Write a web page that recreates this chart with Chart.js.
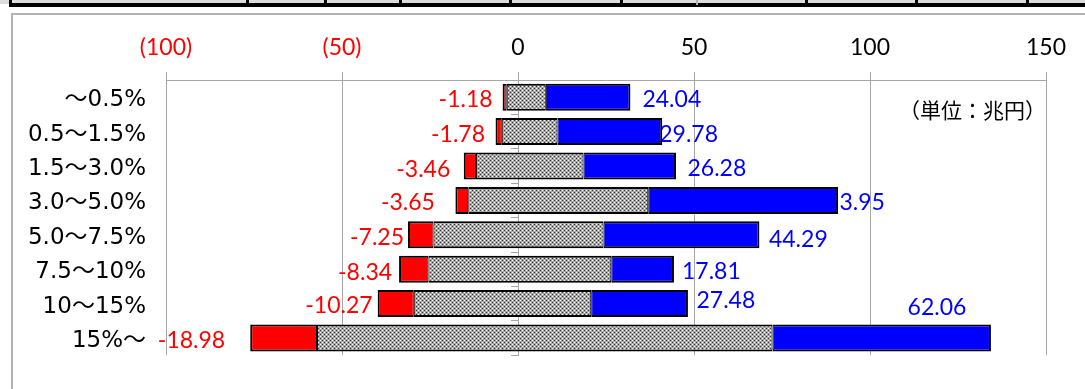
<!DOCTYPE html>
<html>
<head>
<meta charset="utf-8">
<script src="https://cdn.jsdelivr.net/npm/chart.js@4/dist/chart.umd.min.js"></script>
<style>
  html, body { margin: 0; padding: 0; background: #fff; }
  #wrap { position: relative; width: 1085px; height: 389px; overflow: hidden; background: #fff; }
  .cells { position: absolute; left: 0; top: 0; width: 1085px; height: 4px; background: #dcdcdc; }
  .rule { position: absolute; left: 9px; top: 3px; width: 1076px; height: 4px; background: #000; }
  .sep { position: absolute; top: 0; width: 3px; height: 5px; background: #000; }
  .sep.light { background: #b0b0b0; width: 2px; }
  #frame { position: absolute; left: 11px; top: 13px; width: 1100px; height: 420px;
           border: 2px solid #b4b4b4; box-sizing: border-box; }
  #chart { position: absolute; left: 0; top: 0; }
</style>
</head>
<body>
<div id="wrap">
  <div class="cells"></div>
  <div class="rule"></div>
  <div class="sep" style="left:9px"></div>
  <div class="sep" style="left:246px"></div>
  <div class="sep" style="left:324px"></div>
  <div class="sep" style="left:399px"></div>
  <div class="sep" style="left:509px"></div>
  <div class="sep" style="left:620px"></div>
  <div class="sep light" style="left:696px"></div>
  <div class="sep" style="left:805px"></div>
  <div class="sep" style="left:915px"></div>
  <div class="sep" style="left:1026px"></div>
  <div id="frame"></div>
  <canvas id="chart" width="1085" height="389"></canvas>
</div>
<script>
// Income brackets (rows, top to bottom)
const categories = ['～0.5%', '0.5～1.5%', '1.5～3.0%', '3.0～5.0%', '5.0～7.5%', '7.5～10%', '10～15%', '15%～'];
// Red segment: decrease (兆円)
const decrease = [-1.18, -1.78, -3.46, -3.65, -7.25, -8.34, -10.27, -18.98];
// Hatched segment: lower and upper ends
const neutralLow = [-3.2, -4.6, -11.95, -14.13, -24.0, -25.45, -29.6, -57.1];
const neutralHigh = [7.9, 11.2, 18.6, 37.0, 24.3, 26.5, 20.8, 72.3];
// Blue segment: increase (兆円)
const increase = [24.04, 29.78, 26.28, 53.95, 44.29, 17.81, 27.48, 62.06];
// Value axis ticks
const xTickValues = [-100, -50, 0, 50, 100, 150];
const unitLabel = '（単位：兆円）';

// Label placement relative to the bar end: [dx, dy, align]
const decreaseLabelNudge = [[-10, 2.5], [-10.5, 3], [-13.5, 3.5], [-20.5, 2.5], [-4, 3], [-7, 3], [-5, 2], [-25, 2.3]];
const increaseLabelNudge = [[12, 2.5], [-3, 3], [11.5, 3], [-12, 2.5], [9.5, 4.8], [8, 2.8], [8.5, -3], [-54, -30.5, 'center']];

const RED = '#ff0000', BLUE = '#0000ff', GRID = '#a6a6a6';
const numFont = 'Lato, "Noto Sans", sans-serif';
const catFont = '"DejaVu Sans", "Noto Sans CJK JP", sans-serif';
const jpFont = '"Noto Sans CJK JP", "Noto Sans", sans-serif';

function hatchPattern() {
  const t = document.createElement('canvas');
  t.width = 4; t.height = 4;
  const g = t.getContext('2d');
  g.fillStyle = '#a8a8a8'; g.fillRect(0, 0, 4, 4);
  g.fillStyle = '#ffffff'; g.fillRect(0, 0, 1, 1); g.fillRect(2, 2, 1, 1);
  g.fillStyle = '#333333'; g.fillRect(2, 0, 1, 1); g.fillRect(0, 2, 1, 1);
  return g.createPattern(t, 'repeat');
}

const redData = categories.map((_, i) => [neutralLow[i] + decrease[i], neutralLow[i]]);
const grayData = categories.map((_, i) => [neutralLow[i], neutralHigh[i]]);
const blueData = categories.map((_, i) => [neutralHigh[i], neutralHigh[i] + increase[i]]);

const valueLabels = {
  id: 'valueLabels',
  beforeDatasetsDraw(chart) {
    const ctx = chart.ctx;
    const x = chart.scales.x, y = chart.scales.y;
    ctx.save();
    ctx.font = '23px ' + numFont;
    ctx.textBaseline = 'middle';
    categories.forEach((_, i) => {
      const yc = y.getPixelForValue(i);
      const [ndx, ndy] = decreaseLabelNudge[i];
      ctx.fillStyle = RED;
      ctx.textAlign = 'right';
      ctx.fillText(decrease[i].toFixed(2), x.getPixelForValue(redData[i][0]) + ndx, yc + ndy);
      const [pdx, pdy, align] = increaseLabelNudge[i];
      ctx.fillStyle = BLUE;
      ctx.textAlign = align || 'left';
      ctx.fillText(increase[i].toFixed(2), x.getPixelForValue(blueData[i][1]) + pdx, yc + pdy);
    });
    ctx.restore();
  },
  afterDraw(chart) {
    const ctx = chart.ctx;
    ctx.save();
    ctx.font = '21px ' + jpFont;
    ctx.fillStyle = '#000';
    ctx.textAlign = 'right';
    ctx.textBaseline = 'middle';
    ctx.fillText(unitLabel, chart.chartArea.right, chart.chartArea.top + 30);
    ctx.restore();
  }
};

const hatch = hatchPattern();

new Chart(document.getElementById('chart'), {
  type: 'bar',
  data: {
    labels: categories,
    datasets: [
      { label: '減少', data: redData, backgroundColor: RED,
        borderWidth: { top: 2, bottom: 2, left: 2, right: 1 } },
      { label: '変化なし', data: grayData, backgroundColor: hatch,
        borderWidth: { top: 2, bottom: 2, left: 1, right: 1 } },
      { label: '増加', data: blueData, backgroundColor: BLUE,
        borderWidth: { top: 2, bottom: 2, left: 1, right: 2 } }
    ]
  },
  options: {
    indexAxis: 'y',
    responsive: false,
    animation: false,
    devicePixelRatio: 1,
    layout: { padding: { left: 0, right: 39, top: 0, bottom: 21 } },
    datasets: {
      bar: {
        grouped: false,
        barPercentage: 0.784,
        categoryPercentage: 1,
        borderSkipped: false,
        borderColor: '#000',
        inflateAmount: 0
      }
    },
    plugins: {
      legend: { display: false },
      tooltip: { enabled: false },
      title: { display: false }
    },
    scales: {
      x: {
        type: 'linear',
        position: 'top',
        min: -100,
        max: 150,
        afterBuildTicks(scale) { scale.ticks = xTickValues.map(v => ({ value: v })); },
        afterFit(scale) { scale.height = 80; },
        grid: { color: GRID, lineWidth: 1, tickLength: 8, drawTicks: true },
        border: { color: GRID, width: 1 },
        ticks: {
          autoSkip: false,
          maxRotation: 0,
          padding: 11,
          font: { family: numFont, size: 23 },
          color: c => (c.tick && c.tick.value < 0 ? RED : '#000'),
          callback: v => (v < 0 ? '(' + (-v) + ')' : String(v))
        }
      },
      y: {
        position: 'left',
        afterFit(scale) { scale.width = 166; },
        grid: { display: false, drawTicks: false },
        border: { display: false },
        ticks: {
          padding: 20,
          labelOffset: 3,
          color: '#000',
          font: { family: catFont, size: 23 }
        }
      },
      zeroAxis: {
        type: 'category',
        axis: 'y',
        position: { x: 0 },
        offset: true,
        grid: { offset: true, drawOnChartArea: false, tickLength: 7, color: GRID },
        border: { color: GRID, width: 1 },
        ticks: { display: false }
      }
    }
  },
  plugins: [valueLabels]
});
</script>
</body>
</html>
